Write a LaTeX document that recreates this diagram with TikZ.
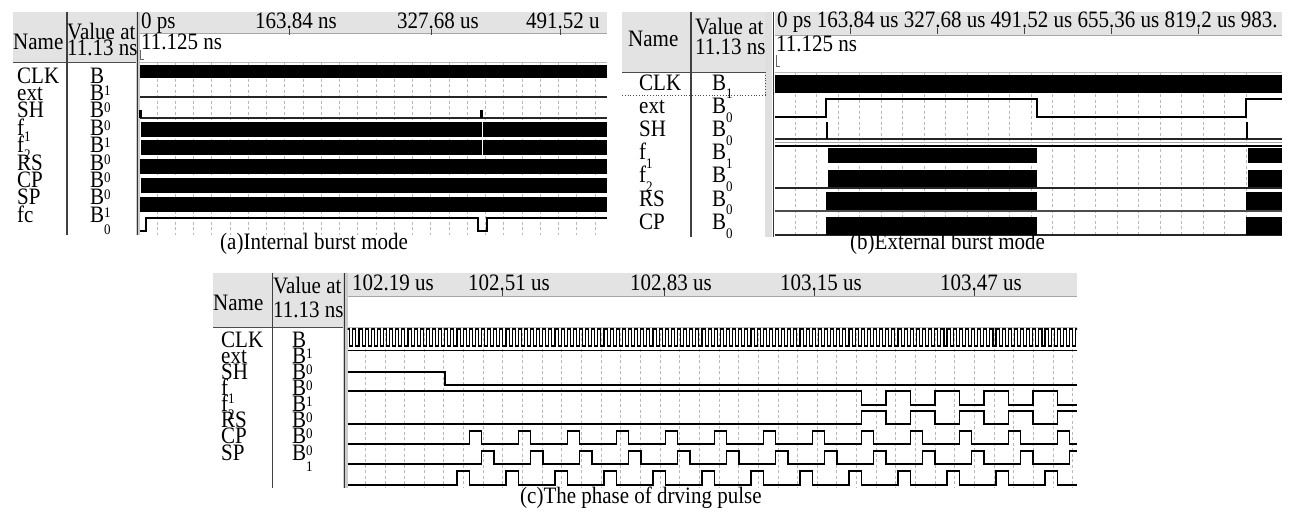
\documentclass[tikz,border=0pt]{standalone}
\usepackage{fontspec}
\setmainfont{Liberation Serif}
\newcommand\Sb[3]{#1\raisebox{-#3}{\fontsize{13}{13}\selectfont #2}}
\newcommand\tk{\makebox[0pt][l]{\hspace{0.09em}\textcolor{black!75}{\rule[-5pt]{0.9pt}{5pt}}}}
\newsavebox\tbox
\begin{document}
\begin{tikzpicture}[x=1pt,y=-1pt,
 txt/.style={inner sep=0pt,anchor=base west,font=\fontsize{21}{21}\selectfont,
   execute at begin node={\begin{lrbox}{\tbox}},
   execute at end node={\end{lrbox}\scalebox{1}[1.12]{\usebox{\tbox}}}},
 hdr/.style={fill=gray!22},
 gridln/.style={gray!55,dash pattern=on 3pt off 2.5pt,line width=0.6pt},
 wv/.style={line width=1.5pt,black},
 thinwv/.style={line width=1.1pt,black!85},
 colline/.style={black!75,line width=1.3pt},
 sepfill/.style={fill=gray!40},
 sepline/.style={black!80,line width=1pt},
 busbar/.style={fill=black},
 mk/.style={black!60,line width=0.8pt}
]
\useasboundingbox (0,0) rectangle (1297,511);
\fill[white] (0,0) rectangle (1297,511);

% ================= Panel (a) =================
\fill[hdr] (13,12) rectangle (136,62);
\fill[hdr] (140,12) rectangle (607,33);
\draw[gray!70] (140,33) -- (607,33);
\draw[gray!55] (140,62) -- (607,62);
\draw[black!70,line width=1pt] (13,62) -- (136,62);
\foreach \k in {1,...,25} \draw[gridln] ({138.75+18.25*\k},62) -- ({138.75+18.25*\k},235);
\draw[colline] (67,12) -- (67,235);
\fill[sepfill] (136,12) rectangle (140,235);
\draw[sepline] (137,12) -- (137,235);

\node[txt] (aName) at (13,49) {Name};
\node[txt] (aVal1) at (67,40) {Value at};
\node[txt] (aVal2) at (67,56) {11.13 ns};
\node[txt] (aT0) at (141,29) {0 ps};
\node[txt] (aT1) at (255,29) {163\tk.84 ns};
\node[txt] (aT2) at (397,29) {327\tk.68 us};
\node[txt] (aT3) at (526,29) {491\tk.52 u};
\node[txt] (aCur) at (141,49) {11.125 ns};
\draw[mk] (140.5,50) -- (140.5,59) -- (144,59);

\foreach \n/\v [count=\i from 0] in {CLK/1,ext/0,SH/0,{\Sb{f}{1}{6pt}}/1,{\Sb{f}{2}{6pt}}/0,RS/0,CP/0,SP/1,fc/0}{
 \node[txt] (an\i) at (17,{83+17.4*\i}) {\n};
 \node[txt] (av\i) at (90,{83+17.4*\i}) {\Sb{B}{\v}{11pt}};
}

\fill[busbar] (140,65) rectangle (607,78);
\draw[thinwv] (140,97) -- (607,97);
\draw[thinwv] (140,118) -- (607,118);
\fill[black] (139,110) rectangle (142,118);
\fill[black] (480,110) rectangle (482.5,118);
\fill[busbar] (141,122) rectangle (607,137);
\fill[busbar] (141,140) rectangle (607,155);
\draw[white,line width=0.9pt] (482,122) -- (482,155);
\fill[busbar] (140,159) rectangle (607,174);
\fill[busbar] (141,178) rectangle (607,193);
\fill[busbar] (140,197) rectangle (607,212);
\draw[wv] (140,231) -| (146,218) -| (478,231) -| (487,218) -- (607,218);

\node[txt] (capA) at (220,249) {(a)Internal burst mode};

% ================= Panel (b) =================
\fill[hdr] (622,12) rectangle (765,72);
\fill[gray!25] (765,12) rectangle (772,237);
\fill[hdr] (775,12) rectangle (1282,35);
\draw[gray!70] (775,35) -- (1282,35);
\draw[gray!55] (775,72) -- (1282,72);
\draw[black!70,line width=1pt] (622,72) -- (765,72);
\foreach \k in {1,...,22} \draw[gridln] ({773.5+21.48*\k},72) -- ({773.5+21.48*\k},237);
\draw[colline] (691,12) -- (691,237);
\draw[sepline,line width=1.3pt] (773.5,12) -- (773.5,237);
\draw[black!70,dotted,line width=0.8pt] (622,95) -- (765,95) -- (765,72);

\node[txt] (bName) at (628,47) {Name};
\node[txt] (bVal1) at (695,35) {Value at};
\node[txt] (bVal2) at (695,55) {11.13 ns};
\node[txt] (bT) at (777,28) {0 ps 163\tk.84 us 327\tk.68 us 491\tk.52 us 655\tk.36 us 819\tk.2 us 983.};
\node[txt] (bCur) at (776,52) {11.125 ns};
\draw[mk] (776.5,55) -- (776.5,66) -- (780,66);

\foreach \n/\v [count=\i from 0] in {CLK/1,ext/0,SH/0,{\Sb{f}{1}{8pt}}/1,{\Sb{f}{2}{8pt}}/0,RS/0,CP/0}{
 \node[txt] (bn\i) at (639,{90+23.2*\i}) {\n};
 \node[txt] (bv\i) at (712,{90+23.2*\i}) {\Sb{B}{\v}{8pt}};
}

\fill[busbar] (775,75) rectangle (1282,93);
\draw[wv] (775,117) -| (826,99) -| (1037,117) -| (1246,99) -- (1282,99);
\draw[thinwv] (775,139) -- (1282,139);
\draw[line width=2pt] (827,122) -- (827,139);
\draw[line width=2pt] (1247,122) -- (1247,139);
\draw[gray!70,line width=0.7pt] (775,142) -- (1282,142);
\draw[line width=2pt] (775,146) -- (1282,146);
\fill[busbar] (828,148) rectangle (1037,163);
\fill[busbar] (1248,148) rectangle (1282,163);
\draw[thinwv] (775,188) -- (1282,188);
\fill[busbar] (828,170) rectangle (1037,187);
\fill[busbar] (1248,170) rectangle (1282,187);
\draw[line width=1.5pt,black!70] (775,211) -- (1282,211);
\fill[busbar] (826,192) rectangle (1037,210);
\fill[busbar] (1246,192) rectangle (1282,210);
\draw[thinwv] (775,235) -- (1282,235);
\fill[busbar] (826,217) rectangle (1037,235);
\fill[busbar] (1246,217) rectangle (1282,235);

\node[txt] (capB) at (850,249) {(b)External burst mode};

% ================= Panel (c) =================
\fill[hdr] (213,273) rectangle (343,327);
\fill[hdr] (347.5,273) rectangle (1077,296);
\draw[gray!70] (347.5,296) -- (1077,296);
\draw[gray!55] (347.5,327) -- (1077,327);
\draw[black!70,line width=1pt] (213,327) -- (343,327);
\foreach \k in {1,...,37} \draw[gridln] ({345.5+19.65*\k},327) -- ({345.5+19.65*\k},488);
\draw[colline] (272.5,273) -- (272.5,488);
\fill[sepfill] (343,273) rectangle (347.5,488);
\draw[sepline] (344,273) -- (344,488);

\node[txt] (cName) at (213,310) {Name};
\node[txt] (cVal1) at (273,293) {Value at};
\node[txt] (cVal2) at (273,317) {11.13 ns};
\node[txt] (cT0) at (352,290) {102.19 us};
\node[txt] (cT1) at (468,290) {102\tk.51 us};
\node[txt] (cT2) at (630,290) {102\tk.83 us};
\node[txt] (cT3) at (780,290) {103\tk.15 us};
\node[txt] (cT4) at (940,290) {103\tk.47 us};

\foreach \n/\v [count=\i from 0] in {CLK/1,ext/0,SH/0,{\Sb{f}{1}{7pt}}/1,{\Sb{f}{2}{7pt}}/0,RS/0,CP/0,SP/1}{
 \node[txt] (cn\i) at (221,{347+16.15*\i}) {\n};
 \node[txt] (cv\i) at (292,{347+16.15*\i}) {\Sb{B}{\v}{10pt}};
}

\begin{scope}
\clip (347.5,320) rectangle (1077,360);
\draw[line width=1.1pt] (340,346) \foreach \k in {0,...,119}{ -- ({346.75+6.125*\k},346) -- ({346.75+6.125*\k},329) -- ({349.81+6.125*\k},329) -- ({349.81+6.125*\k},346)} -- (1080,346);
\end{scope}
\draw[line width=1.8pt] (347.5,350.5) -- (1077,350.5);
\draw[wv] (347.5,372) -| (445,385) -- (1077,385);
\draw[wv] (347.5,391) -| (861.25,405) -| (885.75,391) -| (910.25,405) -| (934.75,391) -| (959.25,405) -| (983.75,391) -| (1008.25,405) -| (1032.75,391) -| (1057.25,405) -- (1077,405);
\draw[wv] (347.5,424) -| (861.25,411) -| (885.75,424) -| (910.25,411) -| (934.75,424) -| (959.25,411) -| (983.75,424) -| (1008.25,411) -| (1032.75,424) -| (1057.25,411) -- (1077,411);
\draw[wv] (347.5,444) \foreach \k in {0,...,12}{ -- ({469.25+49*\k},444) -- ({469.25+49*\k},431) -- ({481.5+49*\k},431) -- ({481.5+49*\k},444)} -- (1077,444);
\draw[wv] (347.5,464) \foreach \k in {0,...,11}{ -- ({481.5+49*\k},464) -- ({481.5+49*\k},451) -- ({493.75+49*\k},451) -- ({493.75+49*\k},464)} -- (1069.5,464) -- (1069.5,451) -- (1077,451);
\draw[wv] (347.5,485) \foreach \k in {0,...,12}{ -- ({457+49*\k},485) -- ({457+49*\k},471) -- ({469.25+49*\k},471) -- ({469.25+49*\k},485)} -- (1077,485);

\node[txt] (capC) at (520,503) {(c)The phase of drving pulse};
\end{tikzpicture}
\end{document}
